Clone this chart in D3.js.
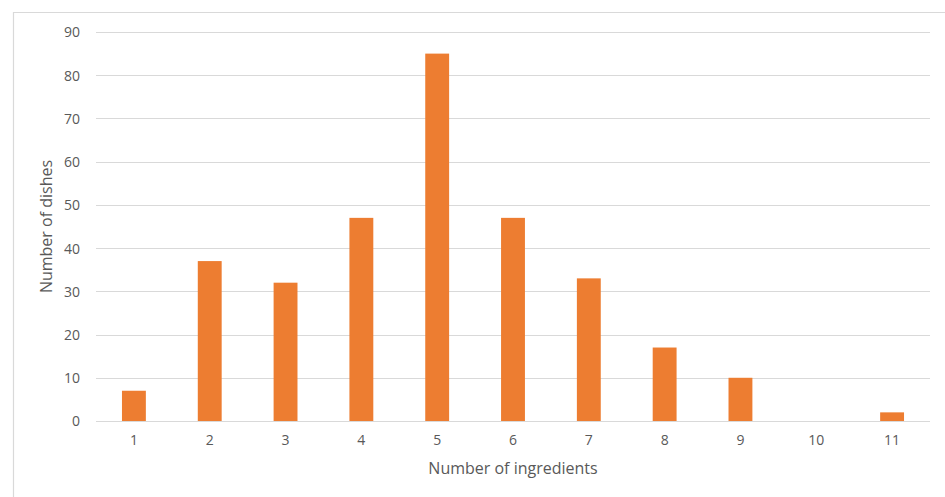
<!DOCTYPE html>
<html>
<head>
<meta charset="utf-8">
<script src="https://cdn.jsdelivr.net/npm/d3@7"></script>
<style>
  html, body { margin: 0; padding: 0; background: #fff; }
  svg { display: block; font-family: "Open Sans", Lato, sans-serif; }
</style>
</head>
<body>
<svg id="chart" width="945" height="497"></svg>
<script>
// Ingredient counts per dish and how many dishes use each count
const categories = ["1", "2", "3", "4", "5", "6", "7", "8", "9", "10", "11"];
const dishes = [7, 37, 32, 47, 85, 47, 33, 17, 10, 0, 2];
const yTicks = [0, 10, 20, 30, 40, 50, 60, 70, 80, 90];

const svg = d3.select("#chart");
const W = 945, H = 497;
const plot = { left: 96, right: 930, top: 32, bottom: 421 };
const font = "'Open Sans', Lato, sans-serif";

// chart frame (left and top edges)
svg.append("path")
  .attr("d", `M13.5,${H} V12.5 H${W}`)
  .attr("fill", "none")
  .attr("stroke", "#d9d9d9")
  .attr("stroke-width", 1.2);

const x = d3.scaleBand()
  .domain(categories)
  .range([plot.left, plot.right])
  .paddingInner(0.685)
  .paddingOuter(0.3425);

const y = d3.scaleLinear()
  .domain([0, 90])
  .range([plot.bottom, plot.top]);

// horizontal gridlines
svg.append("g")
  .selectAll("line")
  .data(yTicks)
  .join("line")
  .attr("x1", plot.left)
  .attr("x2", plot.right)
  .attr("y1", d => Math.round(y(d)) + 0.5)
  .attr("y2", d => Math.round(y(d)) + 0.5)
  .attr("stroke", "#d9d9d9")
  .attr("stroke-width", 1);

// bars
svg.append("g")
  .selectAll("rect")
  .data(dishes)
  .join("rect")
  .attr("x", (d, i) => x(categories[i]))
  .attr("width", x.bandwidth())
  .attr("y", d => y(d))
  .attr("height", d => y(0) - y(d))
  .attr("fill", "#ed7d31");

// y axis labels
const yAxis = d3.axisLeft(y).tickValues(yTicks).tickSize(0).tickPadding(0);
const gy = svg.append("g")
  .attr("transform", `translate(${plot.left - 16},0)`)
  .call(yAxis);
gy.select(".domain").remove();
gy.selectAll("text")
  .attr("fill", "#595959")
  .attr("font-size", 14)
  .attr("dy", "0.35em")
  .attr("font-family", font);

// x axis labels
const xAxis = d3.axisBottom(x).tickSize(0).tickPadding(0);
const gx = svg.append("g")
  .attr("transform", `translate(0,${plot.bottom + 14})`)
  .call(xAxis);
gx.select(".domain").remove();
gx.selectAll("text")
  .attr("fill", "#595959")
  .attr("font-size", 14)
  .attr("dy", "0.71em")
  .attr("font-family", font);

// axis titles
svg.append("text")
  .attr("x", (plot.left + plot.right) / 2)
  .attr("y", 474)
  .attr("text-anchor", "middle")
  .attr("fill", "#595959")
  .attr("font-size", 16)
  .text("Number of ingredients");

svg.append("text")
  .attr("transform", `translate(52,${(plot.top + plot.bottom) / 2}) rotate(-90)`)
  .attr("text-anchor", "middle")
  .attr("fill", "#595959")
  .attr("font-size", 16)
  .text("Number of dishes");
</script>
</body>
</html>
